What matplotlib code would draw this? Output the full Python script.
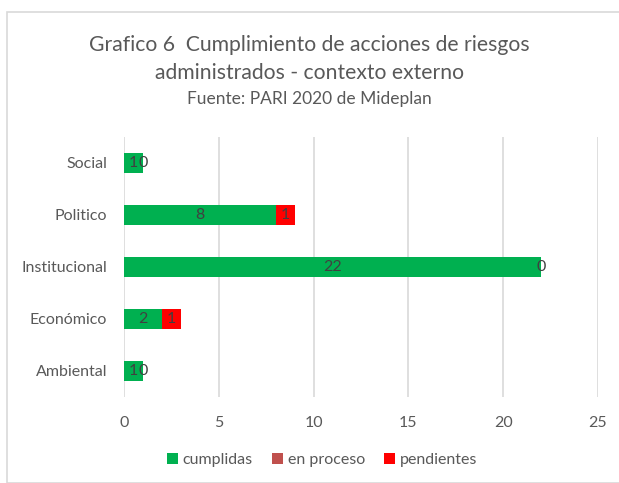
import matplotlib
matplotlib.use("Agg")
import matplotlib.pyplot as plt
from matplotlib.patches import Rectangle

categories = ["Ambiental", "Económico", "Institucional", "Politico", "Social"]
cumplidas = [1, 2, 22, 8, 1]
en_proceso = [0, 0, 0, 0, 0]
pendientes = [0, 1, 0, 1, 0]
series_names = ["cumplidas", "en proceso", "pendientes"]
xticks = [0, 5, 10, 15, 20, 25]

plt.rcParams['font.family'] = ['Lato', 'DejaVu Sans']
gray = "#595959"

fig = plt.figure(figsize=(6.19, 4.83), dpi=100)
fig.patches.append(Rectangle((7/619, 0), 1, 1 - 12/483, transform=fig.transFigure,
                             fill=False, edgecolor="#d9d9d9", linewidth=1.2))

ax = fig.add_axes([124/619, 1 - 397/483, (598 - 124)/619, (397 - 137)/483])
y = list(range(len(categories)))
h = 0.38
b1 = ax.barh(y, cumplidas, height=h, color="#00B050", zorder=3)
left2 = cumplidas
b2 = ax.barh(y, en_proceso, height=h, left=left2, color="#C0504D", zorder=3)
left3 = [a + b for a, b in zip(cumplidas, en_proceso)]
b3 = ax.barh(y, pendientes, height=h, left=left3, color="#FF0000", zorder=3)

lab_kw = dict(label_type="center", color="#404040", fontsize=11.5)
ax.bar_label(b1, labels=[str(v) for v in cumplidas], **lab_kw)
ax.bar_label(b3, labels=[str(v) for v in pendientes], **lab_kw)

ax.set_xlim(0, 25)
ax.set_ylim(-0.5, len(categories) - 0.5)
ax.set_xticks(xticks)
ax.set_yticks(y)
ax.set_yticklabels(categories)
ax.grid(axis="x", color="#d9d9d9", linewidth=1.2, zorder=0)
for s in ax.spines.values():
    s.set_visible(False)
ax.tick_params(axis="both", length=0, colors=gray, labelsize=11.5)
ax.tick_params(axis="x", pad=14)
ax.tick_params(axis="y", pad=12)

fig.text(0.5, 1 - 45/483, "Grafico 6  Cumplimiento de acciones de riesgos", ha="center", va="center",
         fontsize=15.2, color=gray)
fig.text(0.5, 1 - 73/483, "administrados - contexto externo", ha="center", va="center",
         fontsize=15.2, color=gray)
fig.text(0.5, 1 - 99/483, "Fuente: PARI 2020 de Mideplan", ha="center", va="center",
         fontsize=12.5, color=gray)

leg = fig.legend([b1, b2, b3], series_names, loc="center", bbox_to_anchor=(322/619, 1 - 460/483),
                 ncol=3, frameon=False, fontsize=11.5, handlelength=0.7, handleheight=0.7,
                 handletextpad=0.3, columnspacing=1.2)
for t in leg.get_texts():
    t.set_color(gray)

fig.savefig("out.png", dpi=100)
